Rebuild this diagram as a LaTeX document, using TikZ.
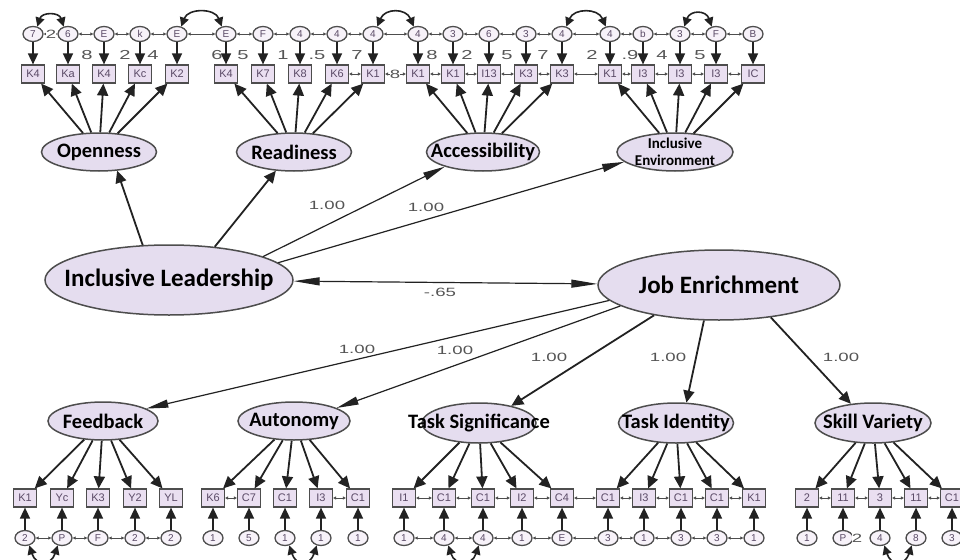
\documentclass[tikz,border=0pt]{standalone}
\usepackage{fontspec}
\setmainfont{Carlito}
\newfontfamily\numfont[FakeStretch=1.55]{Liberation Sans}
\newfontfamily\smallfont{Liberation Sans}
\usetikzlibrary{arrows.meta,shapes.geometric}
\definecolor{latfill}{HTML}{E5DDEF}
\definecolor{obsfill}{HTML}{EADFF1}
\definecolor{rim}{HTML}{4D4D4D}
\definecolor{ink}{HTML}{222222}
\definecolor{numgray}{HTML}{555555}
\definecolor{boxtext}{HTML}{5A4A66}
\tikzset{
 lat/.style={ellipse,draw=rim,line width=1.5pt,fill=latfill,inner sep=0pt},
 latlab/.style={font=\bfseries\fontsize{20.5}{22}\selectfont,text=black,inner sep=0pt},
 biglab/.style={font=\bfseries\fontsize{25}{27}\selectfont,text=black,inner sep=0pt},
 obs/.style={rectangle,draw=rim,line width=1.2pt,fill=obsfill,minimum width=23pt,minimum height=18pt,inner sep=0pt,font=\smallfont\fontsize{11}{11}\selectfont,text=boxtext},
 err/.style={ellipse,draw=rim,line width=1.3pt,fill=obsfill!40,minimum width=20pt,minimum height=15pt,inner sep=0pt,font=\smallfont\fontsize{10}{10}\selectfont,text=boxtext},
 load/.style={draw=ink,line width=1.8pt,-{Triangle[length=12pt,width=11pt]}},
 earrow/.style={draw=ink,line width=1.6pt,-{Triangle[length=11pt,width=10pt]}},
 thinreg/.style={draw=ink,line width=1.2pt,-{Triangle[length=22pt,width=8pt]}},
 dbl/.style={draw=ink,line width=1.2pt,{Triangle[length=26pt,width=8pt]}-{Triangle[length=26pt,width=8pt]}},
 scov/.style={draw=rim,line width=.7pt,{Triangle[length=3pt,width=3pt]}-{Triangle[length=3pt,width=3pt]}},
 hump/.style={draw=ink,line width=1.6pt,{Triangle[length=9pt,width=9pt]}-{Triangle[length=9pt,width=9pt]}},
 num/.style={font=\numfont\fontsize{12}{12}\selectfont,text=numgray,inner sep=0pt},
 snum/.style={font=\numfont\fontsize{13}{13}\selectfont,text=numgray,inner sep=0pt},
}
\begin{document}
\begin{tikzpicture}[x=1pt,y=-1pt]
\useasboundingbox (0,0) rectangle (960,559);
\clip (0,0) rectangle (960,559);
\fill[white] (0,0) rectangle (960,559);

% latent variables
\node[lat,minimum width=115pt,minimum height=38pt,label={[latlab]center:Openness}] (open) at (99,152) {};
\node[lat,minimum width=115pt,minimum height=38pt,label={[latlab]center:Readiness}] (ready) at (294,152) {};
\node[lat,minimum width=113pt,minimum height=38pt,label={[latlab]center:Accessibility}] (access) at (483,152) {};
\node[lat,minimum width=116pt,minimum height=38pt,label={[font=\bfseries\fontsize{15}{17}\selectfont,align=center,inner sep=0pt]center:{Inclusive\\Environment}}] (incl) at (675,152) {};
\node[lat,minimum width=248pt,minimum height=70pt,label={[biglab]center:Inclusive Leadership}] (il) at (169,280) {};
\node[lat,minimum width=242pt,minimum height=70pt,label={[biglab]center:Job Enrichment}] (je) at (719,285) {};
\node[lat,minimum width=110pt,minimum height=38pt,label={[latlab]center:Feedback}] (fb) at (103,421) {};
\node[lat,minimum width=112pt,minimum height=38pt,label={[latlab]center:Autonomy}] (auto) at (294,421) {};
\node[lat,minimum width=114pt,minimum height=40pt,label={[latlab]center:Task Significance}] (tsig) at (479,423) {};
\node[lat,minimum width=115pt,minimum height=40pt,label={[latlab]center:Task Identity}] (tid) at (676,423) {};
\node[lat,minimum width=116pt,minimum height=40pt,label={[latlab]center:Skill Variety}] (svar) at (873,423) {};

% top indicators and errors
\foreach \x/\a/\b [count=\i] in {33/K4/7,68/Ka/6,104/K4/E,140/Kc/k,177/K2/E,226/K4/E,263/K7/F,300/K8/4,337/K6/4,373/K1/4,418/K1/4,453/K1/3,489/I13/6,526/K3/3,562/K3/4,610/K1/4,643/I3/b,680/I3/3,716/I3/F,753/IC/B}{
 \node[obs] (t\i) at (\x,74) {\a};
 \node[err] (te\i) at (\x,34) {\b};
 \draw[earrow] (te\i) -- (t\i);
}
% bottom indicators and errors
\foreach \x/\a/\b [count=\i] in {25/K1/2,62/Yc/P,98/K3/F,135/Y2/2,171/YL/2,213/K6/1,249/C7/5,285/C1/1,321/I3/1,358/C1/1,404/I1/1,444/C1/4,483/C1/4,522/I2/1,562/C4/E,608/C1/3,644/I3/1,681/C1/3,717/C1/3,754/K1/1,807/2/1,843/11/P,880/3/4,916/11/8,952/C1/3}{
 \node[obs] (b\i) at (\x,498) {\a};
 \node[err] (be\i) at (\x,538) {\b};
 \draw[earrow] (be\i) -- (b\i);
}

% loadings
\foreach \i in {1,...,5} \draw[load] (open) -- (t\i);
\foreach \i in {6,...,10} \draw[load] (ready) -- (t\i);
\foreach \i in {11,...,15} \draw[load] (access) -- (t\i);
\foreach \i in {16,...,20} \draw[load] (incl) -- (t\i);
\foreach \i in {1,...,5} \draw[load] (fb) -- (b\i);
\foreach \i in {6,...,10} \draw[load] (auto) -- (b\i);
\foreach \i in {11,...,15} \draw[load] (tsig) -- (b\i);
\foreach \i in {16,...,20} \draw[load] (tid) -- (b\i);
\foreach \i in {21,...,25} \draw[load] (svar) -- (b\i);

% small covariances between errors / indicators
\foreach \i in {1,...,19}{\pgfmathtruncatemacro\j{\i+1}\draw[scov] (te\i) -- (te\j);}
\foreach \i in {9,...,19}{\pgfmathtruncatemacro\j{\i+1}\draw[scov] (t\i) -- (t\j);}
\foreach \i in {1,2,3,4,11,12,13,14,15,16,17,18,19}{\pgfmathtruncatemacro\j{\i+1}\draw[scov] (be\i) -- (be\j);}
\foreach \i in {6,9,11,12,13,14,15,16,17,18,19,21,22,23,24}{\pgfmathtruncatemacro\j{\i+1}\draw[scov] (b\i) -- (b\j);}

% curved covariances
\draw[hump] (te1.60) .. controls (42,12) and (59,12) .. (te2.120);
\draw[hump] (te5.60) .. controls (188,8) and (215,8) .. (te6.120);
\draw[hump] (te10.60) .. controls (385,8) and (406,8) .. (te11.120);
\draw[hump] (te15.60) .. controls (574,8) and (598,8) .. (te16.120);
\draw[hump] (te18.60) .. controls (690,10) and (706,10) .. (te19.120);
\draw[hump] (be1.-60) .. controls (36,566) and (51,566) .. (be2.-120);
\draw[hump] (be8.-60) .. controls (296,566) and (310,566) .. (be9.-120);
\draw[hump] (be12.-60) .. controls (455,566) and (472,566) .. (be13.-120);
\draw[hump] (be23.-60) .. controls (891,566) and (905,566) .. (be24.-120);

% structural paths
\draw[load] (il.127) -- (open.-46);
\draw[load] (il.36) -- (ready.-134);
\draw[thinreg] (il.14) -- (access.-159);
\draw[thinreg] (il.9) -- (incl.-169);
\draw[dbl] (il) -- (je);
\draw[thinreg] (je.-172) -- (fb.16);
\draw[thinreg] (je.-168) -- (auto.17);
\draw[load] (je.-155) -- (tsig.28);
\draw[load] (je.-113.5) -- (tid.63);
\draw[load] (je.-32) -- (svar.139);

% numbers
\foreach \x/\t [count=\i] in {87/8,125/2,153/4,217/6,243/5,283/1,317/.5,357/7,432/8,467/2,507/5,543/7,592/2,630/.9,662/4,700/5}
  \node[snum] (tn\i) at (\x,55) {\t};
\node[num,fill=white] (n2a) at (51,34) {2};
\node[num,fill=white] (n8a) at (395,74) {8};
\node[num,fill=white] (n2b) at (857,538) {2};
\node[num] (w1) at (327,205) {1.00};
\node[num] (w2) at (426,207) {1.00};
\node[num] (w3) at (440,292) {-.65};
\node[num] (w4) at (357,349) {1.00};
\node[num] (w5) at (455,350) {1.00};
\node[num] (w6) at (549,357) {1.00};
\node[num] (w7) at (668,357) {1.00};
\node[num] (w8) at (841,357) {1.00};
\end{tikzpicture}
\end{document}
